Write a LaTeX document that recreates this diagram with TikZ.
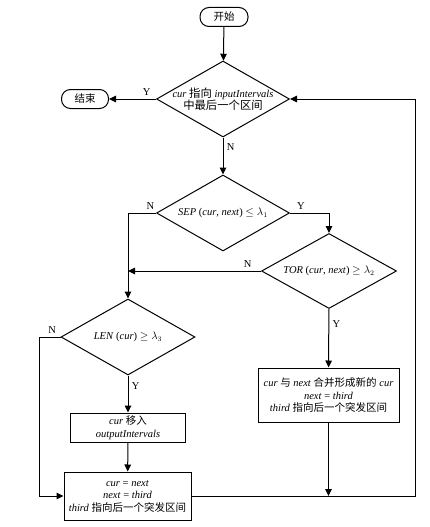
\documentclass[tikz,border=0pt]{standalone}
\usepackage{fontspec}
\setmainfont{Liberation Serif}
\newfontfamily\cjk[Scale=1.0]{Noto Sans CJK SC}
\usetikzlibrary{shapes.geometric,arrows.meta}
\newcommand{\zh}[1]{{\cjk #1}}
\tikzset{
  term/.style={draw,rounded corners=9pt,minimum height=19pt,inner sep=0pt},
  decision/.style={draw,diamond,minimum width=133pt,minimum height=76pt,inner sep=0pt},
  proc/.style={draw,align=center,inner sep=0pt},
  arr/.style={-{Triangle[length=7pt,width=6.5pt]}},
}
\begin{document}
\begin{tikzpicture}[x=1pt,y=-1pt,line width=1pt,
    font=\fontsize{10.5}{12.5}\selectfont]
      \useasboundingbox (0,0) rectangle (429,527);
      \node[term,minimum width=48pt] (start) at (224,17) {\zh{开始}};
      \node[term,minimum width=47pt] (stop) at (85,99) {\zh{结束}};
      \node[decision,label={[align=center,font=\fontsize{10.5}{12.5}\selectfont\addfontfeature{}]center:\textit{cur} {\cjk\addfontfeature{Scale=1.08}指向} \textit{inputIntervals}\\{\cjk\addfontfeature{Scale=1.08}中最后一个区间}}] (last) at (223,99) {};
      \node[decision,label={center:\textit{SEP} (\textit{cur}, \textit{next}) $\le\lambda_1$}] (sep) at (223,213) {};
      \node[decision,minimum width=135pt,minimum height=75pt,label={center:\textit{TOR} (\textit{cur}, \textit{next}) $\ge\lambda_2$}] (tor) at (329,271) {};
      \node[decision,minimum width=134pt,label={center:\textit{LEN} (\textit{cur}) $\ge\lambda_3$}] (len) at (128,337) {};
      \node[proc,minimum width=115pt,minimum height=29pt] (out) at (128,427.5) {\textit{cur} \zh{移入}\\\textit{outputIntervals}};
      \node[proc,minimum width=127pt,minimum height=48pt] (upd) at (127.5,496) {\textit{cur} = \textit{next}\\\textit{next} = \textit{third}\\\textit{third} \zh{指向后一个突发区间}};
      \node[proc,minimum width=141pt,minimum height=54pt] (merge) at (328.5,395) {\textit{cur} \zh{与} \textit{next} \zh{合并形成新的} \textit{cur}\\\textit{next} = \textit{third}\\\textit{third} \zh{指向后一个突发区间}};
      \begin{scope}[arr]
        \draw (start) -- (last);
        \draw (last.west) -- node[above,pos=.2]{Y} (stop);
        \draw (last) -- node[right,pos=.25]{N} (sep);
        \draw (sep.west) -| node[above,pos=.1]{N} (len.north);
        \draw (sep.east) -| node[above,pos=.14]{Y} (tor.north);
        \draw (tor.west) -- node[above,pos=.1]{N} (tor.west -| len.north);
        \draw (tor) -- node[right,pos=.25]{Y} (merge);
        \draw (len) -- node[right,pos=.28]{Y} (out);
        \draw (len.west) -- node[above,pos=.4]{N} ++(-21,0) |- (upd.west);
        \draw (out) -- (upd);
        \draw (merge) -- (merge.south |- upd.east);
        \draw (upd.east) -| ([xshift=125pt]last.east) -- (last.east);
      \end{scope}
    \end{tikzpicture}
\end{document}
